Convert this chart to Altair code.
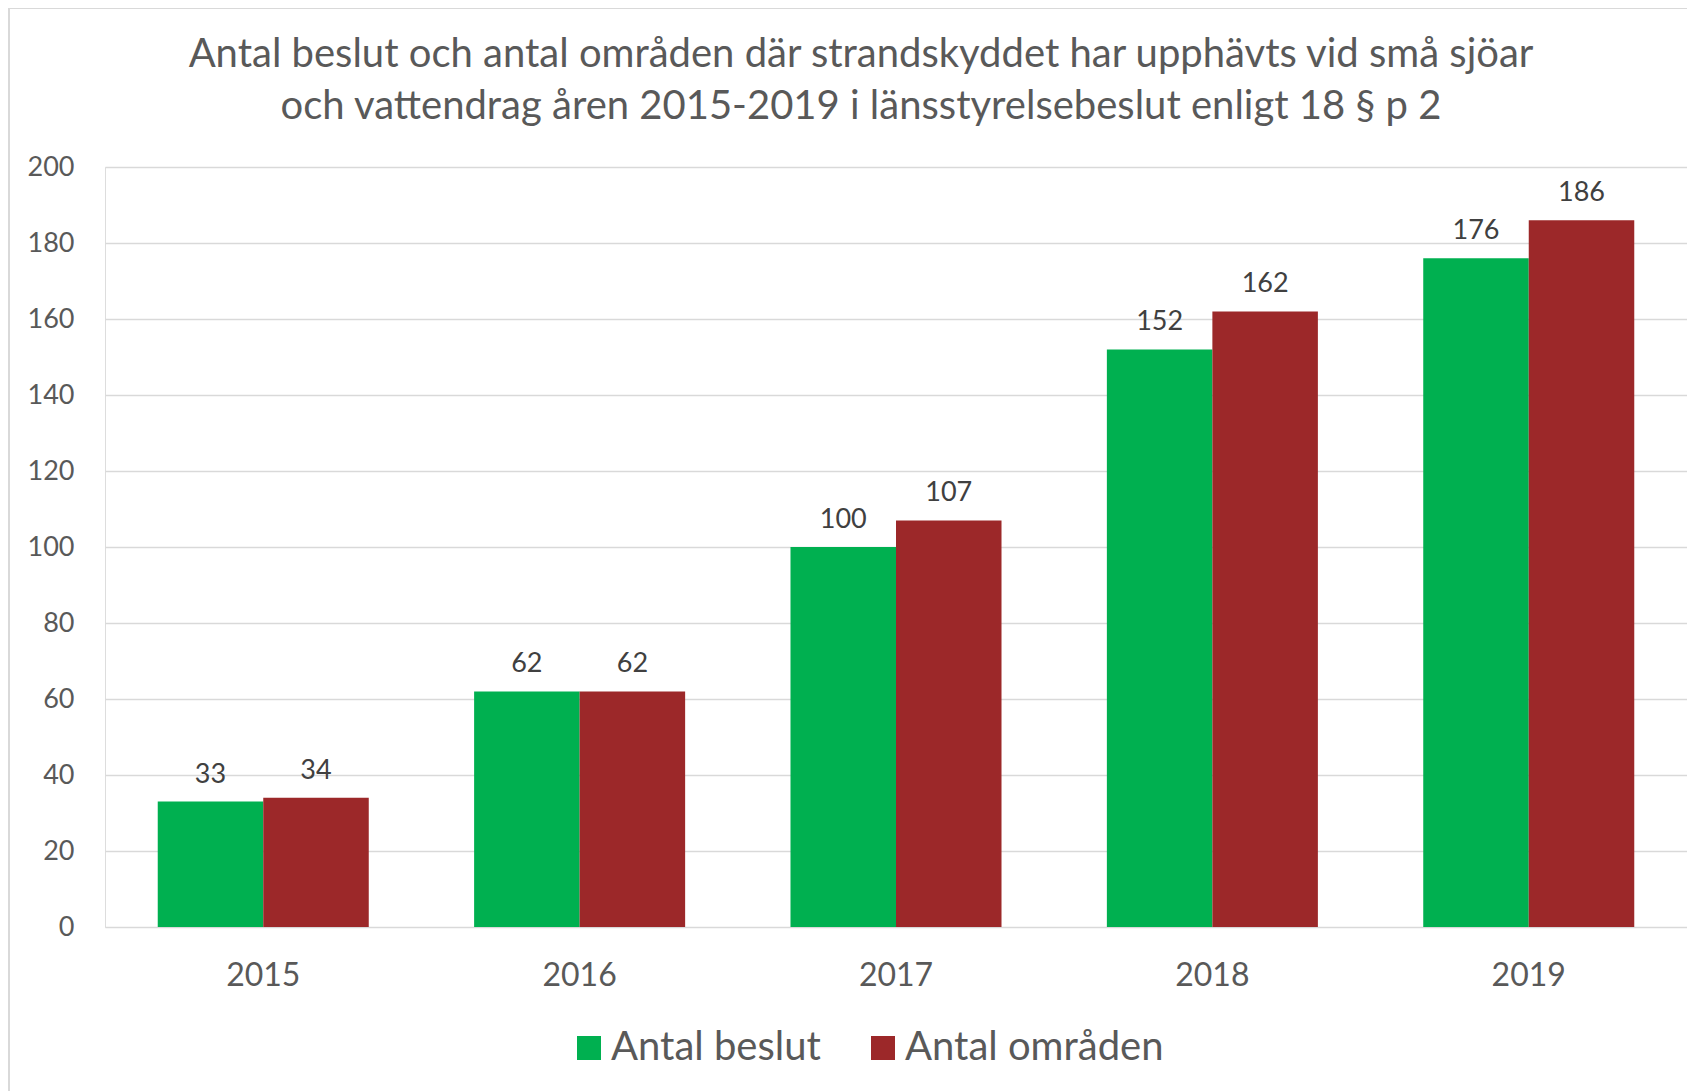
import altair as alt
import pandas as pd

years = ["2015", "2016", "2017", "2018", "2019"]
series_names = ["Antal beslut", "Antal områden"]
antal_beslut = [33, 62, 100, 152, 176]
antal_omraden = [34, 62, 107, 162, 186]
series_colors = ["#00B050", "#9C2829"]
title_lines = [
    "Antal beslut och antal områden där strandskyddet har upphävts vid små sjöar",
    "och vattendrag åren 2015-2019 i länsstyrelsebeslut enligt 18 § p 2",
]

rows = []
for i, y in enumerate(years):
    rows.append({"year": y, "series": series_names[0], "value": antal_beslut[i]})
    rows.append({"year": y, "series": series_names[1], "value": antal_omraden[i]})
df = pd.DataFrame(rows)

FONT = "Lato"
W, H = 1582, 760

x_enc = alt.X("year:N", sort=years,
              scale=alt.Scale(paddingInner=0.333, paddingOuter=0.1667),
              axis=alt.Axis(title=None, labelAngle=0, labelFontSize=32, labelColor="#595959",
                            labelFont=FONT, domain=False, ticks=False, labelPadding=33))
xoff = alt.XOffset("series:N", sort=series_names, scale=alt.Scale(paddingInner=0, paddingOuter=0))
y_enc = alt.Y("value:Q", scale=alt.Scale(domain=[0, 200]),
              axis=alt.Axis(title=None, values=list(range(0, 201, 20)), labelFontSize=27,
                            labelColor="#595959", labelFont=FONT, domain=False, ticks=False,
                            labelPadding=31, gridColor="#d9d9d9", gridWidth=1.5))

bars = alt.Chart(df).mark_bar().encode(
    x=x_enc, xOffset=xoff, y=y_enc,
    color=alt.Color("series:N", sort=series_names,
                    scale=alt.Scale(domain=series_names, range=series_colors),
                    legend=alt.Legend(title=None, orient="none", direction="horizontal",
                                      legendX=464, legendY=861, symbolType="square",
                                      symbolSize=576, symbolStrokeWidth=0,
                                      labelFontSize=40, labelFont=FONT, labelColor="#595959",
                                      labelOffset=2, columnPadding=42, labelLimit=400)),
)

labels = alt.Chart(df).mark_text(baseline="alphabetic", dy=-19, fontSize=27, font=FONT,
                                  color="#404040").encode(
    x=alt.X("year:N", sort=years), xOffset=alt.XOffset("series:N", sort=series_names),
    y="value:Q", text="value:Q",
)

frame_df = pd.DataFrame({"a": [0]})
frame = alt.Chart(frame_df).mark_rect(fill=None, stroke="#d9d9d9", strokeWidth=2).encode(
    x=alt.value(-96), x2=alt.value(W + 200), y=alt.value(-159), y2=alt.value(H + 300)
)

chart = alt.layer(frame, bars, labels).properties(
    width=W, height=H,
    title=alt.TitleParams(text=title_lines, fontSize=40, font=FONT, color="#595959",
                          fontWeight="normal", anchor="middle", dx=-35, offset=-120,
                          lineHeight=52),
    autosize=alt.AutoSizeParams(type="none"),
    padding={"left": 97, "top": 159, "right": 0, "bottom": 164},
).configure_view(stroke=None).configure(background="white")

chart.save("out.html", embed_options={"renderer": "svg", "actions": False})
